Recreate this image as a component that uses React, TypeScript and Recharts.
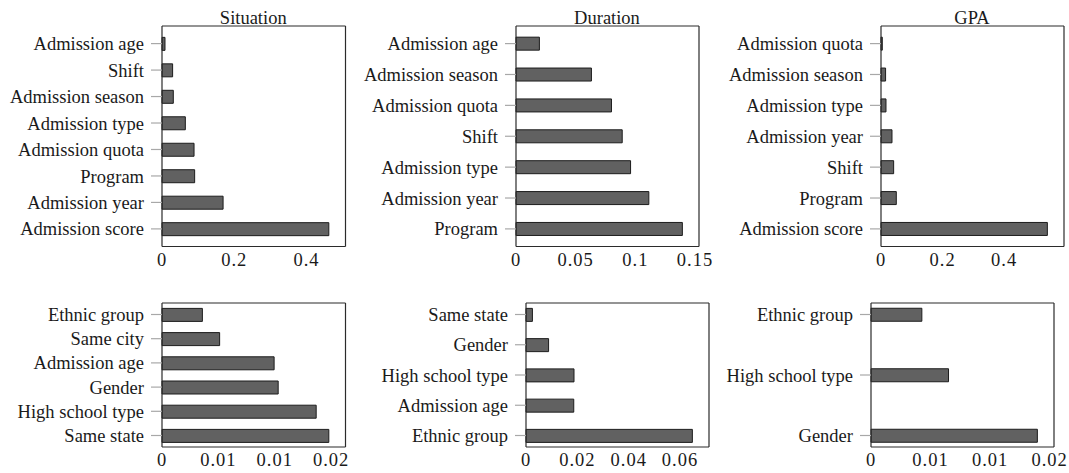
import React from "react";
import { BarChart, Bar, XAxis, YAxis } from "recharts";

// Situation
const situationLabels = ["Admission age", "Shift", "Admission season", "Admission type", "Admission quota", "Program", "Admission year", "Admission score"];
const situationValues = [0.0083, 0.0294, 0.0313, 0.0646, 0.0887, 0.0904, 0.1691, 0.4618];

// Duration
const durationLabels = ["Admission age", "Admission season", "Admission quota", "Shift", "Admission type", "Admission year", "Program"];
const durationValues = [0.0196, 0.0632, 0.08, 0.089, 0.096, 0.1113, 0.1394];

// GPA
const gpaLabels = ["Admission quota", "Admission season", "Admission type", "Admission year", "Shift", "Program", "Admission score"];
const gpaValues = [0.0042, 0.0149, 0.0162, 0.0357, 0.0411, 0.0497, 0.5404];

// bottom row
const situation2Labels = ["Ethnic group", "Same city", "Admission age", "Gender", "High school type", "Same state"];
const situation2Values = [0.00358, 0.00511, 0.00994, 0.0103, 0.01367, 0.01479];

const duration2Labels = ["Same state", "Gender", "High school type", "Admission age", "Ethnic group"];
const duration2Values = [0.0025, 0.0088, 0.0187, 0.0186, 0.0648];

const gpa2Labels = ["Ethnic group", "High school type", "Gender"];
const gpa2Values = [0.00427, 0.00651, 0.01397];

// x ticks
const ticksTenths = [0, 0.2, 0.4];
const ticksTenthsLabels = ["0", "0.2", "0.4"];
const ticksDuration = [0, 0.05, 0.1, 0.15];
const ticksDurationLabels = ["0", "0.05", "0.1", "0.15"];
const ticksSmall = [0, 0.005, 0.01, 0.015];
const ticksSmallLabels = ["0", "0.01", "0.01", "0.02"];
const ticksMid = [0, 0.02, 0.04, 0.06];
const ticksMidLabels = ["0", "0.02", "0.04", "0.06"];

const FONT = "Liberation Serif";
const BORDER = "#2b2b2b";
const TICK = "#a8a8a8";
const YW = 160;
const RW = 12;

type Box = { x: number; y: number; w: number; h: number };

type PanelProps = {
  title?: string;
  labels: string[];
  values: number[];
  ticks: number[];
  tickLabels: string[];
  box: Box;
  edge: number; // distance from box edge to first/last row centre
};

function Panel({ title, labels, values, ticks, tickLabels, box, edge }: PanelProps) {
  const data = labels.map((name, i) => ({ name, value: values[i] }));
  const max = Math.max(...values) * 1.1;
  const n = labels.length;
  const band = (box.h - 2 * edge) / (n - 1);
  const pad = edge - band / 2;
  const mt = 12;
  const xh = 26;
  const width = YW + box.w + RW + 2;
  const height = mt + box.h + xh;
  const fmt = (v: number) => tickLabels[ticks.indexOf(v)] ?? String(v);
  const axisFont = { fill: "#1a1a1a", fontSize: 18.5, fontFamily: FONT, style: { fontFamily: FONT } };

  return (
    <>
      {title && (
        <div
          style={{
            position: "absolute",
            left: box.x,
            width: box.w,
            top: box.y - 17.5,
            textAlign: "center",
            fontSize: 18.5,
            lineHeight: "18.5px",
            color: "#1a1a1a",
          }}
        >
          {title}
        </div>
      )}
      <div style={{ position: "absolute", left: box.x - YW, top: box.y - mt }}>
        <BarChart
          width={width}
          height={height}
          data={data}
          layout="vertical"
          margin={{ top: mt, right: 2, bottom: 0, left: 0 }}
          style={{ fontFamily: FONT }}
        >
          <XAxis
            xAxisId="b"
            type="number"
            orientation="bottom"
            domain={[0, max]}
            ticks={ticks}
            tickFormatter={fmt}
            interval={0}
            height={xh}
            tickSize={0}
            tickMargin={6}
            tickLine={false}
            axisLine={{ stroke: BORDER, strokeWidth: 1.2 }}
            tick={{ ...axisFont, letterSpacing: 1 }}
          />
          <XAxis
            xAxisId="bm"
            type="number"
            orientation="bottom"
            mirror
            domain={[0, max]}
            ticks={ticks}
            interval={0}
            tickSize={10}
            tick={false}
            axisLine={false}
            tickLine={{ stroke: TICK, strokeWidth: 1.2 }}
          />
          <XAxis
            xAxisId="tm"
            type="number"
            orientation="top"
            mirror
            domain={[0, max]}
            ticks={ticks}
            interval={0}
            tickSize={10}
            tick={false}
            axisLine={{ stroke: BORDER, strokeWidth: 1.2 }}
            tickLine={{ stroke: TICK, strokeWidth: 1.2 }}
          />
          <YAxis
            type="category"
            dataKey="name"
            width={YW}
            interval={0}
            padding={{ top: pad, bottom: pad }}
            tickSize={11}
            tickMargin={7}
            axisLine={{ stroke: BORDER, strokeWidth: 1.2 }}
            tickLine={{ stroke: TICK, strokeWidth: 1.2 }}
            tick={axisFont}
          />
          <YAxis
            yAxisId="r"
            type="category"
            dataKey="name"
            orientation="right"
            width={RW}
            interval={0}
            padding={{ top: pad, bottom: pad }}
            tickSize={11}
            tick={false}
            axisLine={{ stroke: BORDER, strokeWidth: 1.2 }}
            tickLine={{ stroke: TICK, strokeWidth: 1.2 }}
          />
          <Bar
            xAxisId="b"
            dataKey="value"
            barSize={13}
            fill="#616161"
            stroke="#1c1c1c"
            strokeWidth={1}
            isAnimationActive={false}
          />
        </BarChart>
      </div>
    </>
  );
}

export default function App() {
  return (
    <div
      style={{
        position: "absolute",
        left: 0,
        top: 0,
        width: 1069,
        height: 473,
        overflow: "hidden",
        background: "#fff",
        fontFamily: FONT,
      }}
    >
      <Panel title="Situation" labels={situationLabels} values={situationValues} ticks={ticksTenths} tickLabels={ticksTenthsLabels} box={{ x: 161.5, y: 26, w: 183.5, h: 220.5 }} edge={17.6} />
      <Panel title="Duration" labels={durationLabels} values={durationValues} ticks={ticksDuration} tickLabels={ticksDurationLabels} box={{ x: 515.5, y: 26, w: 183, h: 220.5 }} edge={17.6} />
      <Panel title="GPA" labels={gpaLabels} values={gpaValues} ticks={ticksTenths} tickLabels={ticksTenthsLabels} box={{ x: 880.5, y: 26, w: 183, h: 220.5 }} edge={17.6} />
      <Panel labels={situation2Labels} values={situation2Values} ticks={ticksSmall} tickLabels={ticksSmallLabels} box={{ x: 161.5, y: 302.5, w: 183.5, h: 144 }} edge={11.5} />
      <Panel labels={duration2Labels} values={duration2Values} ticks={ticksMid} tickLabels={ticksMidLabels} box={{ x: 525.5, y: 302.5, w: 183, h: 144 }} edge={11.5} />
      <Panel labels={gpa2Labels} values={gpa2Values} ticks={ticksSmall} tickLabels={ticksSmallLabels} box={{ x: 871, y: 302.5, w: 183, h: 144 }} edge={11.5} />
    </div>
  );
}
